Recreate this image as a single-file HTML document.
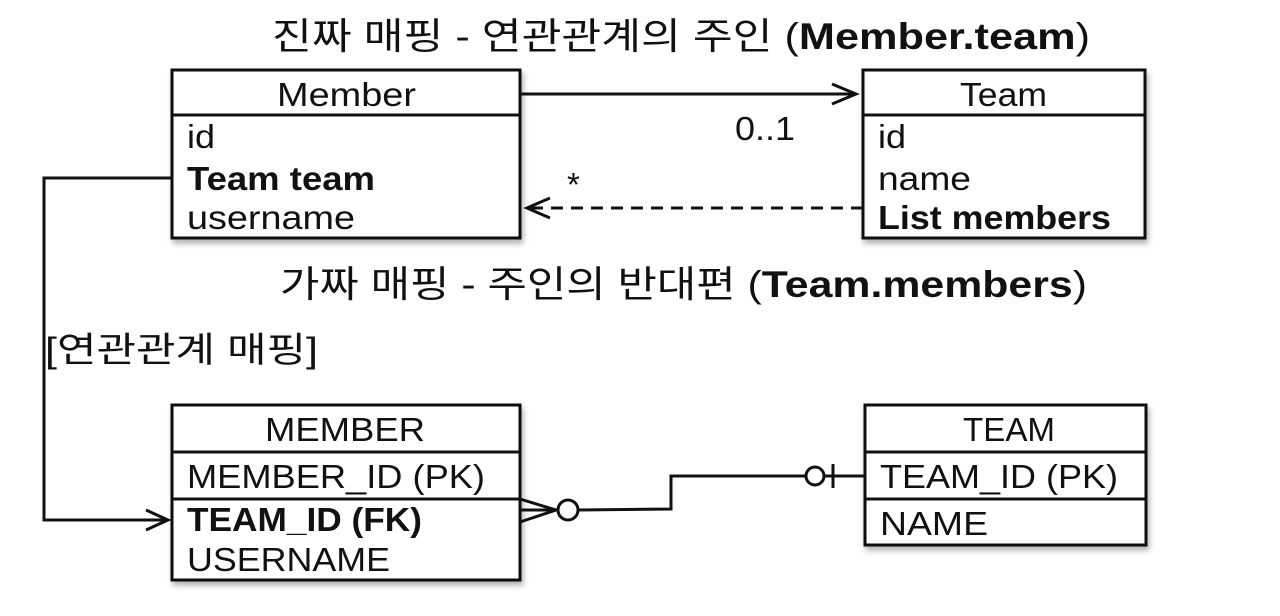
<!DOCTYPE html>
<html><head><meta charset="utf-8"><style>
html,body{margin:0;padding:0;background:#fff;}
svg text{font-family:"Liberation Sans","Noto Sans CJK KR",sans-serif;fill:#111;}
</style></head><body>
<svg width="1280" height="611" viewBox="0 0 1280 611" xmlns="http://www.w3.org/2000/svg">
<defs>
<filter id="sh" x="-5%" y="-5%" width="115%" height="120%"><feDropShadow dx="2" dy="4" stdDeviation="3" flood-opacity="0.3"/></filter>
</defs>
<g lengthAdjust="spacingAndGlyphs">
<text x="272" y="49" font-size="37" textLength="818" lengthAdjust="spacingAndGlyphs">진짜 매핑 - 연관관계의 주인 (<tspan font-weight="bold">Member.team</tspan>)</text>
<text x="280" y="297" font-size="37" textLength="807" lengthAdjust="spacingAndGlyphs">가짜 매핑 - 주인의 반대편 (<tspan font-weight="bold">Team.members</tspan>)</text>
<text x="45" y="362" font-size="35" textLength="273" lengthAdjust="spacingAndGlyphs">[연관관계 매핑]</text>
</g>

<g stroke="#111" stroke-width="3" fill="#fff">
<rect x="172" y="70" width="348" height="168" filter="url(#sh)"/>
<line x1="172" y1="115" x2="520" y2="115"/>
<rect x="863" y="70" width="282" height="168" filter="url(#sh)"/>
<line x1="863" y1="115" x2="1145" y2="115"/>
<rect x="172" y="405" width="348" height="175" filter="url(#sh)"/>
<line x1="172" y1="452" x2="520" y2="452"/>
<line x1="172" y1="499" x2="520" y2="499"/>
<rect x="865" y="405" width="281" height="140" filter="url(#sh)"/>
<line x1="865" y1="452" x2="1146" y2="452"/>
<line x1="865" y1="499" x2="1146" y2="499"/>
</g>

<g font-size="33">
<text x="277" y="106" textLength="139" lengthAdjust="spacingAndGlyphs">Member</text>
<text x="187" y="148" textLength="28" lengthAdjust="spacingAndGlyphs">id</text>
<text x="187" y="190" font-weight="bold" textLength="188" lengthAdjust="spacingAndGlyphs">Team team</text>
<text x="187" y="229" textLength="168" lengthAdjust="spacingAndGlyphs">username</text>
<text x="960" y="106" textLength="87" lengthAdjust="spacingAndGlyphs">Team</text>
<text x="878" y="148" textLength="28" lengthAdjust="spacingAndGlyphs">id</text>
<text x="878" y="190" textLength="93" lengthAdjust="spacingAndGlyphs">name</text>
<text x="878" y="229" font-weight="bold" textLength="233" lengthAdjust="spacingAndGlyphs">List members</text>
<text x="265" y="441" textLength="160" lengthAdjust="spacingAndGlyphs">MEMBER</text>
<text x="187" y="488" textLength="298" lengthAdjust="spacingAndGlyphs">MEMBER_ID (PK)</text>
<text x="187" y="531" font-weight="bold" textLength="235" lengthAdjust="spacingAndGlyphs">TEAM_ID (FK)</text>
<text x="187" y="571" textLength="203" lengthAdjust="spacingAndGlyphs">USERNAME</text>
<text x="963" y="441" textLength="92" lengthAdjust="spacingAndGlyphs">TEAM</text>
<text x="880" y="488" textLength="238" lengthAdjust="spacingAndGlyphs">TEAM_ID (PK)</text>
<text x="880" y="535" textLength="108" lengthAdjust="spacingAndGlyphs">NAME</text>
<text x="735" y="140" textLength="60" lengthAdjust="spacingAndGlyphs">0..1</text>
<text x="567" y="196">*</text>
</g>

<g stroke="#111" stroke-width="3" fill="none">
<line x1="520" y1="94" x2="856" y2="94"/>
<polyline points="832,84 856,94 832,104"/>
<line x1="863" y1="208" x2="530" y2="208" stroke-dasharray="12,8"/>
<polyline points="550,198 527,208 550,218"/>
<polyline points="172,178 44,178 44,520 168,520"/>
<polyline points="146,510 168,520 146,530"/>
<polyline points="520,499 556,510 520,522"/>
<line x1="520" y1="510" x2="558" y2="510"/>
<circle cx="568" cy="510" r="10" fill="#fff"/>
<polyline points="578,510 671,509 671,476 806,476"/>
<circle cx="815" cy="476" r="9" fill="#fff"/>
<line x1="824" y1="476" x2="865" y2="476"/>
<line x1="833" y1="464" x2="833" y2="488"/>
</g>
</svg>
</body></html>
